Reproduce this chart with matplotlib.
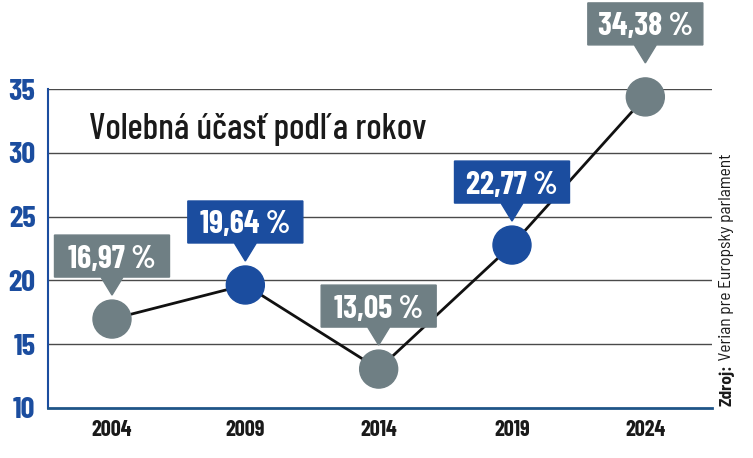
import numpy as np
import matplotlib
matplotlib.use('Agg')
import matplotlib.pyplot as plt
from matplotlib.patches import Polygon, Circle
from matplotlib.transforms import ScaledTranslation

plt.rcParams['font.family'] = ['Barlow Condensed', 'DejaVu Sans']

years = [2004, 2009, 2014, 2019, 2024]
turnout = [16.97, 19.64, 13.05, 22.77, 34.38]
labels = ['16,97 %', '19,64 %', '13,05 %', '22,77 %', '34,38 %']
highlight = [False, True, False, True, False]
yticks = [10, 15, 20, 25, 30, 35]

gray = '#6f7f84'
blue = '#1b4d9f'
dark_blue = '#1f5588'

fig = plt.figure(figsize=(7.53, 4.58), dpi=100)
ax = fig.add_axes([48/753, 50/458, 664/753, 319/458])
ax.set_xlim(2001.6, 2026.5)
ax.set_ylim(10, 35)

for s in ['top', 'right']:
    ax.spines[s].set_visible(False)
ax.spines['left'].set_color(blue)
ax.spines['left'].set_linewidth(1.5)
ax.spines['bottom'].set_color(dark_blue)
ax.spines['bottom'].set_linewidth(2)

ax.set_yticks(yticks)
ax.set_yticklabels([str(v) for v in yticks], color=blue, fontsize=22, fontweight='bold')
ax.set_xticks(years)
ax.set_xticklabels([str(y) for y in years], fontsize=16, fontweight='bold', color='#1a1a1a')
ax.tick_params(axis='y', length=0, pad=9)
ax.tick_params(axis='x', length=0, pad=9)

for v in yticks[1:]:
    ax.axhline(v, color='#4a4a4a', lw=1.0, zorder=1)

ax.plot(years, turnout, color='#111111', lw=2, zorder=2)

# marker + callout boxes, sized in pixels around each point
px = 1 / 100.0
r = 19
gap, tri_h, tri_w, box_h, box_w = 5, 18, 22, 42, 115
lift = [0, 0, 0, 0, 10]
for i, (x, y) in enumerate(zip(years, turnout)):
    col = blue if highlight[i] else gray
    off = ScaledTranslation(x, y, ax.transData)
    tr = fig.dpi_scale_trans + off
    ax.add_patch(Circle((0, 0), r * px, transform=tr, color=col, zorder=4, clip_on=False))
    tip = r + gap + lift[i]
    bb = tip + tri_h
    verts = [(0, tip), (-tri_w / 2, bb), (-box_w / 2, bb), (-box_w / 2, bb + box_h),
             (box_w / 2, bb + box_h), (box_w / 2, bb), (tri_w / 2, bb)]
    verts = [(a * px, b * px) for a, b in verts]
    ax.add_patch(Polygon(verts, closed=True, transform=tr, color=col, zorder=5, clip_on=False))
    ax.text(0, (bb + box_h / 2) * px, labels[i], transform=tr, color='white',
            fontsize=23, fontweight='bold', ha='center', va='center_baseline', zorder=6, clip_on=False)

ax.text(89/753, (458 - 139)/458, 'Volebná účasť podľa rokov', transform=fig.transFigure,
        fontsize=26, fontweight=500, color='#1a1a1a', va='baseline', ha='left')

t1 = fig.text(727/753, 52/458, 'Zdroj:', rotation=90, fontsize=12.5, fontweight='bold',
              family=['Barlow Semi Condensed', 'DejaVu Sans'],
              color='#1a1a1a', ha='center', va='bottom')
ax.annotate(' Verian pre Europsky parlament', xy=(0.5, 1.0), xycoords=t1, rotation=90,
            fontsize=12.5, family=['Barlow Semi Condensed', 'DejaVu Sans'],
            color='#1a1a1a', ha='center', va='bottom', annotation_clip=False)

fig.savefig('out.png', dpi=100)
